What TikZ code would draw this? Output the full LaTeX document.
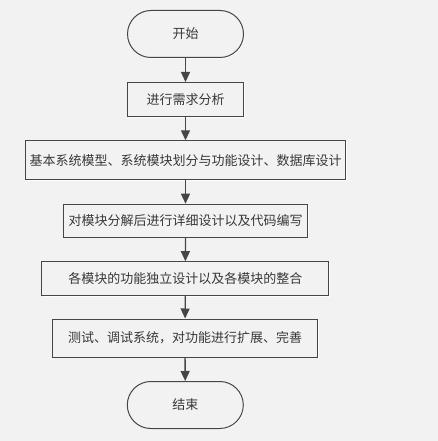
\documentclass[tikz,border=0pt]{standalone}
\usepackage{fontspec}
\newfontfamily\cjk{Noto Sans CJK SC}
\usetikzlibrary{shapes.misc, arrows.meta, shadows}

\definecolor{bggray}{HTML}{F2F2F2}
\definecolor{linegray}{HTML}{454545}
\definecolor{textgray}{HTML}{383838}

\begin{document}
\begin{tikzpicture}[
    x=1pt, y=-1pt,
    terminal/.style={draw=linegray, line width=1pt, rounded rectangle, fill=bggray,
        minimum width=116pt, minimum height=47pt, inner sep=0pt,
        font=\cjk\fontsize{13}{13}\selectfont, text=textgray,
        drop shadow={shadow xshift=1pt, shadow yshift=-1pt, fill=white, opacity=0.9}},
    process/.style={draw=linegray, line width=1pt, rectangle, fill=bggray,
        inner sep=0pt, font=\cjk\fontsize{13}{13}\selectfont, text=textgray,
        drop shadow={shadow xshift=1pt, shadow yshift=-1pt, fill=white, opacity=0.9}},
    arrow/.style={-{Triangle[length=10pt, width=9pt]}, line width=1.3pt, linegray}
]

% Background
\fill[bggray] (0,0) rectangle (438,441);
\useasboundingbox (0,0) rectangle (438,441);

% Nodes of the flow chart
\node[terminal] (start) at (185.5,34) {开始};
\node[process, minimum width=116pt, minimum height=34pt] (analyse) at (185.5,99.5) {进行需求分析};
\node[process, minimum width=320pt, minimum height=39pt] (design) at (185.5,160.3) {基本系统模型、系统模块划分与功能设计、数据库设计};
\node[process, minimum width=244pt, minimum height=33pt] (detail) at (185.5,220.7) {对模块分解后进行详细设计以及代码编写};
\node[process, minimum width=287pt, minimum height=34pt] (merge) at (185.3,278.7) {各模块的功能独立设计以及各模块的整合};
\node[process, minimum width=265pt, minimum height=38pt] (test) at (185,338) {测试、调试系统，对功能进行扩展、完善};
\node[terminal] (stop) at (185.3,405) {结束};

% Connect the steps
\foreach \a/\b in {start/analyse, analyse/design, design/detail, detail/merge, merge/test, test/stop} {
    \draw[arrow] (\a) -- (\b);
}

\end{tikzpicture}
\end{document}
